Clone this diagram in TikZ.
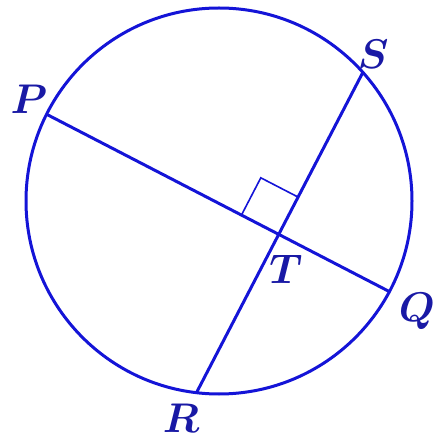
\documentclass[tikz,border=0pt]{standalone}
\usetikzlibrary{calc}
\definecolor{chordblue}{RGB}{20,20,215}
\definecolor{labelblue}{RGB}{25,25,165}
\begin{document}
\begin{tikzpicture}[x=0.5pt, y=-0.5pt,
  chord/.style={draw=chordblue, line width=1.5pt},
  rightmark/.style={draw=chordblue, line width=0.8pt},
  lbl/.style={text=labelblue, font=\huge\boldmath, inner sep=0pt}]
\useasboundingbox (0,0) rectangle (439,438);
% circle and points on it
\coordinate (O) at (219,201);
\coordinate (P) at ($(O)+(-153.3:193)$);
\coordinate (S) at ($(O)+(-41.8:193)$);
\coordinate (Q) at ($(O)+(28:193)$);
\coordinate (R) at ($(O)+(96.7:193)$);
\draw[chord] (O) circle (193);
% chords
\draw[chord] (P) -- (Q);
\draw[chord] (R) -- (S);
\coordinate (T) at (intersection of P--Q and R--S);
% right angle
\coordinate (ma) at ($(T)!21pt!(P)$);
\coordinate (mb) at ($(T)!21pt!(S)$);
\draw[rightmark] (ma) -- ($(ma)+(mb)-(T)$) -- (mb);
% labels
\node[lbl] (lP) at (29,99) {$P$};
\node[lbl] (lS) at (373,54) {$S$};
\node[lbl] (lQ) at (417,311) {$Q$};
\node[lbl] (lR) at (181,418) {$R$};
\node[lbl] (lT) at (286,269) {$T$};
\end{tikzpicture}
\end{document}
